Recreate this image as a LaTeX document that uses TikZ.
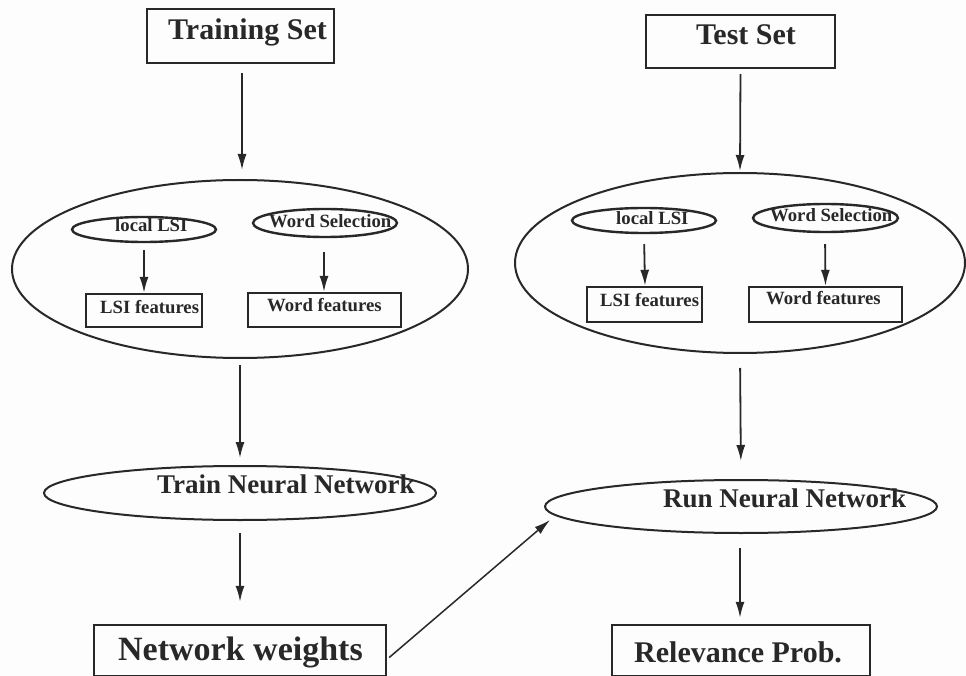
\documentclass[tikz,border=0pt]{standalone}
\usepackage{fontspec}
\setmainfont{Liberation Serif}
\usetikzlibrary{shapes.geometric,arrows.meta,calc}
\definecolor{ink}{RGB}{40,40,40}
\definecolor{paper}{RGB}{253,253,253}
\begin{document}
\begin{tikzpicture}[x=1pt,y=-1pt,
  box/.style={draw=ink, line width=2.4pt, rectangle, inner sep=0pt},
  oval/.style={draw=ink, line width=2pt, ellipse, inner sep=0pt},
  txt/.style={anchor=base west, inner sep=0pt, text=ink, font=\bfseries},
  big/.style={txt, font=\bfseries\fontsize{30}{36}\selectfont},
  mid/.style={txt, font=\bfseries\fontsize{27}{32}\selectfont},
  small/.style={txt, font=\bfseries\fontsize{18.7}{22}\selectfont},
  arr/.style={draw=ink, line width=1.8pt, -{Latex[length=16pt,width=9pt]}}]
\fill[paper] (0,0) rectangle (966,676);
\useasboundingbox (0,0) rectangle (966,676);

% top boxes
\node[box, minimum width=187pt, minimum height=54pt] (trainset) at (240.5,36) {};
\node[big] (trainsetT) at (168,40) {Training Set};
\node[box, minimum width=189pt, minimum height=53pt] (testset) at (740.5,41.5) {};
\node[big] (testsetT) at (696,45) {Test Set};

% big ellipses
\node[oval, minimum width=456pt, minimum height=178pt] (bigL) at (240,269) {};
\node[oval, minimum width=450pt, minimum height=180pt] (bigR) at (740,263) {};

% inner left
\node[oval, line width=2.4pt, minimum width=144pt, minimum height=25pt] (lsiL) at (144,229.5) {};
\node[small] (lsiLT) at (115,232) {local LSI};
\node[oval, line width=2.4pt, minimum width=144pt, minimum height=28pt] (wsL) at (325,223) {};
\node[small] (wsLT) at (269,228) {Word Selection};
\node[box, minimum width=116pt, minimum height=33pt] (lsifL) at (144,310.5) {};
\node[small] (lsifLT) at (100,313) {LSI features};
\node[box, minimum width=153pt, minimum height=34pt] (wfL) at (324.5,310) {};
\node[small] (wfLT) at (267,311) {Word features};

% inner right
\node[oval, line width=2.4pt, minimum width=144pt, minimum height=25pt] (lsiR) at (644,220.5) {};
\node[small] (lsiRT) at (616,225) {local LSI};
\node[oval, line width=2.4pt, minimum width=145pt, minimum height=28pt] (wsR) at (825.5,218) {};
\node[small] (wsRT) at (770,222) {Word Selection};
\node[box, minimum width=115pt, minimum height=35pt] (lsifR) at (644.5,304.5) {};
\node[small] (lsifRT) at (600,306) {LSI features};
\node[box, minimum width=153pt, minimum height=35pt] (wfR) at (825.5,304.5) {};
\node[small] (wfRT) at (766,305) {Word features};

% neural network ellipses
\node[oval, minimum width=392pt, minimum height=54pt] (trainNN) at (240,493) {};
\node[mid] (trainNNT) at (157,493) {Train Neural Network};
\node[oval, minimum width=392pt, minimum height=53pt] (runNN) at (741,506.5) {};
\node[mid] (runNNT) at (663,507) {Run Neural Network};

% bottom boxes
\node[box, minimum width=292pt, minimum height=51pt] (weights) at (240,650.5) {};
\node[big, font=\bfseries\fontsize{34}{40}\selectfont] (weightsT) at (118,660) {Network weights};
\node[box, minimum width=258pt, minimum height=51pt] (relprob) at (741,650.5) {};
\node[big] (relprobT) at (634,662) {Relevance Prob.};

% connectors
\draw[arr, shorten <=9pt, shorten >=9pt] ($(trainset.south)+(1.5,0)$) -- ($(bigL.north)+(2,0)$);
\draw[arr, shorten <=5pt, shorten >=1pt] (testset.south) -- (bigR.north);
\draw[arr, shorten <=7pt] (lsiL.south) -- (lsifL.north);
\draw[arr, shorten <=14pt] ($(wsL.south)+(-1,0)$) -- ($(wfL.north)+(-0.5,0)$);
\draw[arr, shorten <=10pt] (lsiR.south) -- ($(lsifR.north)+(0.5,0)$);
\draw[arr, shorten <=11pt] ($(wsR.south)+(-0.5,0)$) -- (wfR.north);
\draw[arr, shorten <=6pt, shorten >=7pt] (bigL.south) -- (trainNN.north);
\draw[arr, shorten <=14pt, shorten >=18pt] (bigR.south) -- (runNN.north);
\draw[arr, shorten <=12pt, shorten >=22pt] (trainNN.south) -- (weights.north);
\draw[arr, shorten <=14pt, shorten >=6pt] ($(runNN.south)+(-1,0)$) -- ($(relprob.north)+(-1,0)$);
\coordinate (runin) at ($(runNN.west)+(6,13.5)$);
\draw[arr, line width=1.5pt] ($(weights.east)+(2,7)$) -- (runin);
\end{tikzpicture}
\end{document}
